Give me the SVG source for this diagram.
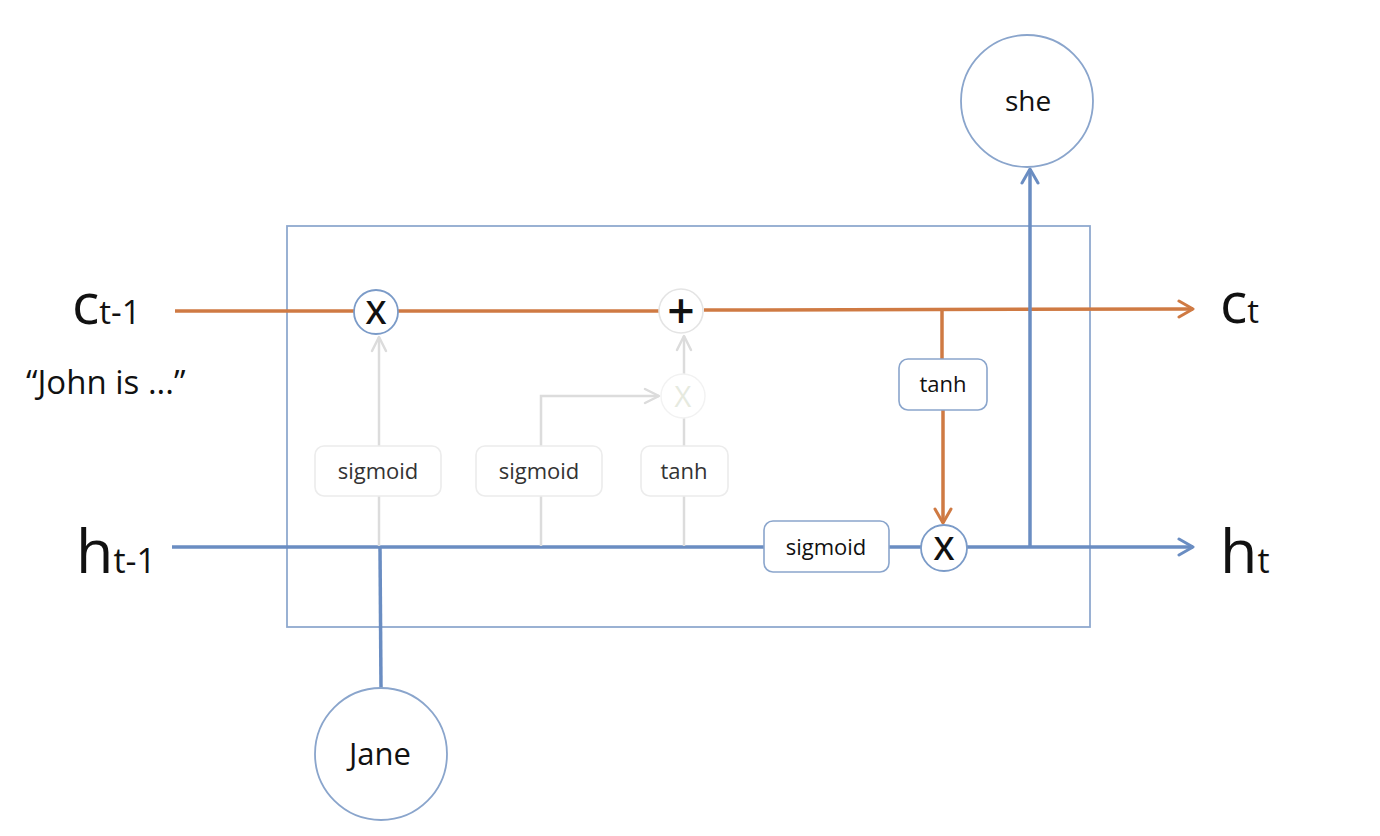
<svg xmlns="http://www.w3.org/2000/svg" width="1380" height="836" viewBox="0 0 1380 836">
<defs>
<marker id="aO" viewBox="0 0 20 20" refX="18" refY="10" markerWidth="20" markerHeight="20" markerUnits="userSpaceOnUse" orient="auto">
<path d="M4 2 L18 10 L4 18" fill="none" stroke="#cf7a43" stroke-width="3" stroke-linecap="round" stroke-linejoin="round"/>
</marker>
<marker id="aB" viewBox="0 0 20 20" refX="18" refY="10" markerWidth="20" markerHeight="20" markerUnits="userSpaceOnUse" orient="auto">
<path d="M4 2 L18 10 L4 18" fill="none" stroke="#6a8dc2" stroke-width="3" stroke-linecap="round" stroke-linejoin="round"/>
</marker>
<marker id="aG" viewBox="0 0 20 20" refX="18" refY="10" markerWidth="20" markerHeight="20" markerUnits="userSpaceOnUse" orient="auto">
<path d="M4 3 L18 10 L4 17" fill="none" stroke="#dcdcdc" stroke-width="2.5" stroke-linecap="round" stroke-linejoin="round"/>
</marker>
</defs>
<style>
text{font-family:"Open Sans","Noto Sans","Liberation Sans",sans-serif;fill:#111}
.o{stroke:#cf7a43;stroke-width:3.5;fill:none}
.b{stroke:#6a8dc2;stroke-width:3.5;fill:none}
.g{stroke:#dcdcdc;stroke-width:2.5;fill:none}
.box{fill:#fff;stroke:#8aa5cc;stroke-width:1.6}
.gbox{fill:#fff;stroke:#ececec;stroke-width:1.6}
.lbl{font-size:22px;text-anchor:middle}
.glbl{font-size:22px;text-anchor:middle;fill:#333}
.op{font-size:33px;text-anchor:middle;font-weight:600}
</style>
<rect width="1380" height="836" fill="#fff"/>
<rect id="cell" x="287" y="226" width="803" height="401" fill="none" stroke="#8fa9cf" stroke-width="1.8"/>
<g id="connectors">
<line class="o" x1="175" y1="311" x2="354" y2="311"/>
<line class="o" x1="398" y1="311" x2="659" y2="311"/>
<line class="o" x1="704" y1="310" x2="1193" y2="309" marker-end="url(#aO)"/>
<line class="o" x1="942" y1="310" x2="942" y2="359"/>
<line class="o" x1="943" y1="410" x2="943" y2="523" marker-end="url(#aO)"/>
<line class="b" x1="172" y1="547" x2="764" y2="547"/>
<line class="b" x1="889" y1="547" x2="922" y2="547"/>
<line class="b" x1="967" y1="547" x2="1193" y2="547" marker-end="url(#aB)"/>
<line class="b" x1="1030" y1="547" x2="1030" y2="169" marker-end="url(#aB)"/>
<line class="b" x1="380" y1="547" x2="381" y2="688"/>
<line class="g" x1="379" y1="546" x2="379" y2="496"/>
<line class="g" x1="379" y1="446" x2="379" y2="337" marker-end="url(#aG)"/>
<line class="g" x1="541" y1="546" x2="541" y2="496"/>
<polyline class="g" points="541,446 541,396 659,396" marker-end="url(#aG)"/>
<line class="g" x1="684" y1="546" x2="684" y2="496"/>
<line class="g" x1="684" y1="446" x2="684" y2="418"/>
<line class="g" x1="684" y1="374" x2="684" y2="336" marker-end="url(#aG)"/>
</g>
<g id="forget-mult">
<circle cx="376" cy="312" r="22" fill="#fff" stroke="#7b9bc8" stroke-width="1.8"/>
<text class="op" x="376" y="324">X</text>
</g>
<g id="plus">
<circle cx="681" cy="311" r="22" fill="#fff" stroke="#e4e4e4" stroke-width="1.6"/>
<text x="681" y="328" font-size="48" font-weight="600" text-anchor="middle">+</text>
</g>
<g id="input-mult">
<circle cx="683" cy="396" r="22" fill="#fff" stroke="#f2f2f2" stroke-width="1.4"/>
<text x="683" y="407" font-size="29" text-anchor="middle" style="fill:#e6eadf">X</text>
</g>
<g id="sig1">
<rect class="gbox" x="315" y="446" width="126" height="50" rx="9"/>
<text class="glbl" x="378" y="479">sigmoid</text>
</g>
<g id="sig2">
<rect class="gbox" x="476" y="446" width="126" height="50" rx="9"/>
<text class="glbl" x="539" y="479">sigmoid</text>
</g>
<g id="tanh1">
<rect class="gbox" x="641" y="446" width="87" height="50" rx="9"/>
<text class="glbl" x="684" y="479" font-size="21">tanh</text>
</g>
<g id="tanh2">
<rect class="box" x="899" y="359" width="88" height="51" rx="9"/>
<text class="lbl" x="943" y="392" font-size="21">tanh</text>
</g>
<g id="sig3">
<rect class="box" x="764" y="521" width="125" height="51" rx="9"/>
<text class="lbl" x="826" y="555">sigmoid</text>
</g>
<g id="out-mult">
<circle cx="944" cy="548" r="23" fill="#fff" stroke="#7b9bc8" stroke-width="1.8"/>
<text class="op" x="944" y="560">X</text>
</g>
<g id="she">
<circle cx="1027" cy="101" r="66" fill="#fff" stroke="#8aa5cc" stroke-width="1.8"/>
<text x="1028" y="111" font-size="28" text-anchor="middle">she</text>
</g>
<g id="jane">
<circle cx="381" cy="754" r="66" fill="#fff" stroke="#8aa5cc" stroke-width="1.8"/>
<text x="380" y="765" font-size="31" text-anchor="middle">Jane</text>
</g>
<g id="labels">
<text x="72" y="324"><tspan font-size="57">c</tspan><tspan font-size="33">t-1</tspan></text>
<text x="26" y="394" font-size="33">“John is ...”</text>
<text x="76" y="573"><tspan font-size="61">h</tspan><tspan font-size="34">t-1</tspan></text>
<text x="1220" y="323"><tspan font-size="57">c</tspan><tspan font-size="33">t</tspan></text>
<text x="1220" y="573"><tspan font-size="61">h</tspan><tspan font-size="34">t</tspan></text>
</g>
</svg>
